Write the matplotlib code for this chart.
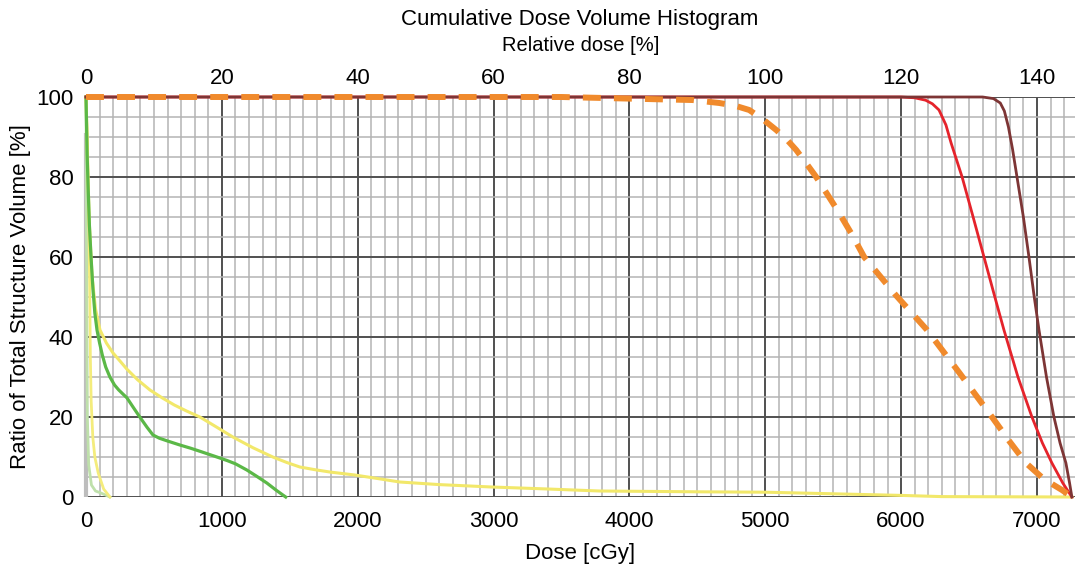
import matplotlib
matplotlib.use("Agg")
import matplotlib.pyplot as plt
from matplotlib.ticker import MultipleLocator

plt.rcParams['font.family'] = ['Liberation Sans', 'DejaVu Sans']

# ---- data (dose in cGy, volume in %) ----
brown_dose = [0, 6600, 6680, 6730, 6760, 6790, 6820, 6853, 6900, 6941, 6980,
              7015, 7070, 7125, 7170, 7213, 7240, 7257]
brown_vol = [100, 100, 99.6, 98.5, 96.5, 92.5, 87, 80, 70, 60, 50,
             41.75, 30, 20, 13.5, 8.5, 3.5, 0]

red_dose = [0, 6000, 6100, 6180, 6230, 6279, 6330, 6368, 6449, 6530, 6610,
            6690, 6757, 6860, 6963, 7040, 7110, 7190, 7257]
red_vol = [100, 100, 99.8, 99.2, 98.3, 96.75, 93, 88.5, 80, 70, 60,
           50, 41.75, 30, 20, 13.5, 8.5, 3.5, 0]

orange_dose = [0, 3500, 4000, 4250, 4463, 4662, 4780, 4882, 4980, 5081, 5160,
               5228, 5300, 5375, 5460, 5544, 5640, 5728, 5960, 6191, 6430,
               6669, 6800, 6919, 7050, 7184, 7257]
orange_vol = [100, 100, 99.6, 99.4, 99.25, 98.5, 97.8, 96.75, 94.5, 91.75, 89.3,
              86.75, 83.5, 80, 75.5, 71, 65.5, 60, 50.5, 41.75, 31,
              20, 13.8, 8.5, 4.5, 1.75, 0]

green_dose = [0, 8, 15, 25, 37, 51, 65, 81, 100, 120, 145, 176, 210, 240, 270,
              301, 350, 400, 450, 493, 540, 600, 691, 770, 850, 920, 985, 1040,
              1100, 1184, 1260, 1331, 1400, 1449, 1470]
green_vol = [100, 86, 78, 68, 60, 52, 46, 41.75, 38.5, 35.5, 32.5, 30, 28, 26.8,
             25.8, 24.8, 22.3, 19.8, 17.4, 15.5, 14.7, 14, 13, 12.2, 11.3, 10.5,
             9.75, 9.1, 8.3, 6.75, 5.1, 3.5, 1.7, 0.5, 0]

yellow_dose = [0, 10, 25, 45, 70, 103, 150, 199, 250, 300, 380, 471, 560, 650,
               740, 838, 960, 1081, 1230, 1375, 1480, 1574, 1690, 1794, 1978,
               2150, 2309, 2600, 2985, 3400, 3779, 4500, 5000, 5500, 6000, 6300,
               7257]
yellow_vol = [100, 85, 68, 55, 47, 41.75, 38.5, 36, 34, 32, 29.3, 26.75, 24.8,
              23, 21.5, 20, 17.5, 15, 12.3, 10, 8.6, 7.5, 6.8, 6.25, 5.5,
              4.6, 3.75, 3.1, 2.5, 2.0, 1.5, 1.3, 1.2, 0.8, 0.4, 0.1, 0]

yellow2_dose = [0, 10, 20, 28, 32, 38, 50, 65, 90, 130, 176]
yellow2_vol = [100, 90, 70, 50, 35, 24, 15, 10, 6, 2, 0]

lgreen_dose = [0, 5, 10, 20, 40, 70, 110, 176]
lgreen_vol = [100, 50, 20, 8, 3, 1.5, 1, 0]

gray_dose = [0, 0]
gray_vol = [91, 0]

x_ticks = [0, 1000, 2000, 3000, 4000, 5000, 6000, 7000]
y_ticks = [0, 20, 40, 60, 80, 100]
top_ticks = [0, 20, 40, 60, 80, 100, 120, 140]

FS = 16

fig = plt.figure(figsize=(10.77, 5.66), dpi=100)
ax = fig.add_axes([86/1077, 1 - 497/566, (1075-86)/1077, (497-97)/566])

ax.set_xlim(0, 7280)
ax.set_ylim(0, 100)

ax.xaxis.set_major_locator(MultipleLocator(1000))
ax.xaxis.set_minor_locator(MultipleLocator(100))
ax.yaxis.set_major_locator(MultipleLocator(20))
ax.yaxis.set_minor_locator(MultipleLocator(5))
ax.set_xticks(x_ticks)
ax.set_yticks(y_ticks)
ax.grid(which='minor', color='#b4b4b4', linewidth=1.1)
ax.grid(which='major', color='#505050', linewidth=1.4)
ax.set_axisbelow(True)
for s in ax.spines.values():
    s.set_visible(False)
ax.tick_params(which='both', length=0, labelsize=FS)
ax.tick_params(axis='x', pad=10)
ax.tick_params(axis='y', pad=9)

ax.plot(gray_dose, gray_vol, color='#bdbdbd', lw=3, clip_on=False, solid_capstyle='butt')
ax.plot(lgreen_dose, lgreen_vol, color='#bfe0ab', lw=2, clip_on=False)
ax.plot(yellow2_dose, yellow2_vol, color='#f4ec7c', lw=2, clip_on=False)
ax.plot(yellow_dose, yellow_vol, color='#f2e86a', lw=2.2, clip_on=False)
ax.plot(green_dose, green_vol, color='#5bb847', lw=2.3, clip_on=False)
ax.plot(red_dose, red_vol, color='#e5232b', lw=2, clip_on=False)
ax.plot(brown_dose, brown_vol, color='#7d3535', lw=2, clip_on=False)
ax.plot(orange_dose, orange_vol, color='#f08a2c', lw=4.3, dashes=(3, 2.2),
        dash_capstyle='butt', clip_on=False)

ax.set_xlabel('Dose [cGy]', fontsize=FS, labelpad=8)
ax.set_ylabel('Ratio of Total Structure Volume [%]', fontsize=FS, labelpad=4)

sec = ax.secondary_xaxis('top', functions=(lambda d: d / 50.0, lambda r: r * 50.0))
sec.set_xticks(top_ticks)
sec.tick_params(length=0, labelsize=FS, pad=5.5)
sec.spines['top'].set_visible(False)
sec.set_xlabel('Relative dose [%]', fontsize=14.5, labelpad=12.5)

fig.text(580/1077, 1 - 19/566, 'Cumulative Dose Volume Histogram', ha='center',
         va='center', fontsize=FS)

fig.savefig('out.png', dpi=100)
